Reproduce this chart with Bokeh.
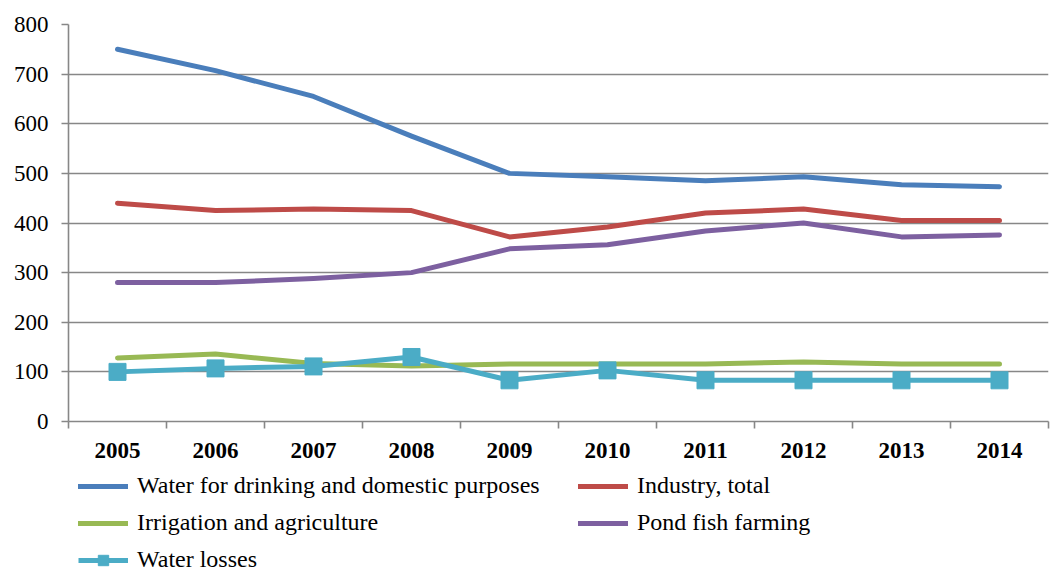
from bokeh.plotting import figure
from bokeh.models import FixedTicker, Legend, LegendItem, Range1d
from bokeh.layouts import column
from bokeh.embed import file_html
from bokeh.resources import INLINE

years = ["2005", "2006", "2007", "2008", "2009", "2010", "2011", "2012", "2013", "2014"]
drinking = [750, 707, 655, 575, 500, 493, 485, 493, 477, 473]
industry = [440, 425, 428, 425, 372, 392, 420, 428, 405, 405]
irrigation = [128, 136, 117, 112, 116, 116, 116, 120, 116, 116]
fish = [280, 280, 288, 300, 348, 356, 384, 400, 372, 376]
losses = [100, 107, 111, 130, 83, 103, 83, 83, 83, 83]
y_ticks = [0, 100, 200, 300, 400, 500, 600, 700, 800]

xs = [i + 0.5 for i in range(len(years))]
GRAY = "#878787"
FONT = "Liberation Serif"

p = figure(width=1050, height=468, output_backend="svg", toolbar_location=None,
           x_range=Range1d(0, len(years)), y_range=Range1d(0, 800),
           min_border_left=68, min_border_top=24, min_border_right=2, min_border_bottom=47)
p.outline_line_color = None
p.xgrid.grid_line_color = None
p.ygrid.grid_line_color = GRAY
p.ygrid.grid_line_width = 1.6
p.ygrid.ticker = FixedTicker(ticks=y_ticks)

p.yaxis.ticker = FixedTicker(ticks=y_ticks, minor_ticks=[])
p.yaxis.axis_line_color = GRAY
p.yaxis.axis_line_width = 1.6
p.yaxis.major_tick_line_color = GRAY
p.yaxis.major_tick_line_width = 1.6
p.yaxis.major_tick_out = 7
p.yaxis.major_tick_in = 0
p.yaxis.minor_tick_line_color = None
p.yaxis.major_label_text_font = FONT
p.yaxis.major_label_text_font_size = "23px"
p.yaxis.major_label_text_color = "black"
p.yaxis.major_label_standoff = 13

p.xaxis.ticker = FixedTicker(ticks=xs, minor_ticks=list(range(len(years) + 1)))
p.xaxis.major_label_overrides = {x: y for x, y in zip(xs, years)}
p.xaxis.axis_line_color = GRAY
p.xaxis.axis_line_width = 1.6
p.xaxis.major_tick_line_color = None
p.xaxis.major_tick_out = 0
p.xaxis.major_tick_in = 0
p.xaxis.minor_tick_line_color = GRAY
p.xaxis.minor_tick_line_width = 1.6
p.xaxis.minor_tick_out = 7
p.xaxis.minor_tick_in = 0
p.xaxis.major_label_text_font = FONT
p.xaxis.major_label_text_font_size = "23px"
p.xaxis.major_label_text_font_style = "bold"
p.xaxis.major_label_text_color = "black"
p.xaxis.major_label_standoff = 14

series = [
    ("Water for drinking and domestic purposes", drinking, "#4A7EBB"),
    ("Industry, total", industry, "#BE4B48"),
    ("Irrigation and agriculture", irrigation, "#98B954"),
    ("Pond fish farming", fish, "#7D60A0"),
]

# legend figure below the chart (its frame is aligned with the chart frame)
q = figure(width=1050, height=105, output_backend="svg", toolbar_location=None,
           x_axis_type=None, y_axis_type=None, min_border=0,
           x_range=Range1d(0, 1), y_range=Range1d(0, 1))
q.outline_line_color = None
q.grid.grid_line_color = None

off = [-10, -9]  # legend proxies drawn outside q's visible range
items = []
for name, vals, col in series:
    p.line(xs, vals, line_color=col, line_width=5, line_cap="round", line_join="round")
    r = q.line(off, off, line_color=col, line_width=5, line_cap="round")
    items.append(LegendItem(label=name, renderers=[r]))

p.line(xs, losses, line_color="#4BACC6", line_width=5, line_join="round")
p.scatter(xs, losses, marker="square", size=17, fill_color="#4BACC6", line_color="#4BACC6")
ql = q.line(off, off, line_color="#4BACC6", line_width=5)
qs = q.scatter(off, off, marker="square", size=17, fill_color="#4BACC6", line_color="#4BACC6")
items.append(LegendItem(label="Water losses", renderers=[ql, qs]))

legend = Legend(items=items, orientation="horizontal", ncols=2, location=(10, 0),
                glyph_width=50, glyph_height=26, label_height=26, label_width=431,
                label_standoff=9, spacing=10, padding=0, margin=0,
                label_text_font=FONT, label_text_font_size="24px", label_text_color="black",
                border_line_color=None, background_fill_color=None)
q.add_layout(legend, "center")

open("out.html", "w").write(file_html(column(p, q, spacing=0), INLINE))
